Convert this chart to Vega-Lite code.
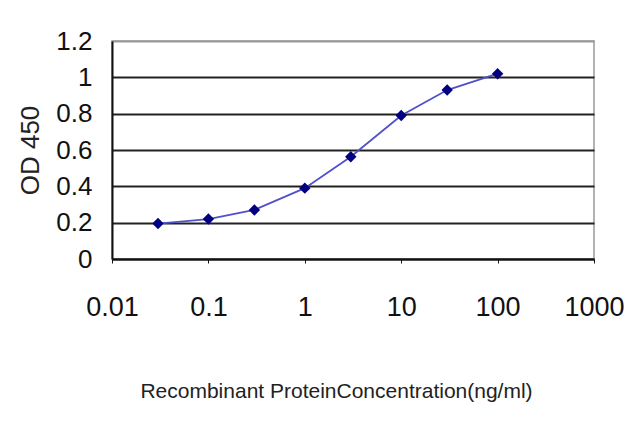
{
  "$schema": "https://vega.github.io/schema/vega-lite/v6.json",
  "width": 482,
  "height": 218,
  "autosize": "none",
  "padding": {"left": 112, "top": 41, "right": 46, "bottom": 168},
  "background": "white",
  "config": {
    "view": {"stroke": "#999999", "strokeWidth": 1.5},
    "font": "Liberation Sans"
  },
  "data": {
    "values": [
      {"conc": 0.03, "od": 0.195},
      {"conc": 0.1, "od": 0.22},
      {"conc": 0.3, "od": 0.27},
      {"conc": 1, "od": 0.39},
      {"conc": 3, "od": 0.563},
      {"conc": 10, "od": 0.79},
      {"conc": 30, "od": 0.93},
      {"conc": 100, "od": 1.02}
    ]
  },
  "encoding": {
    "x": {
      "field": "conc",
      "type": "quantitative",
      "scale": {"type": "log", "domain": [0.01, 1000], "nice": false},
      "axis": {
        "values": [0.01, 0.1, 1, 10, 100, 1000],
        "format": "~g",
        "grid": false,
        "labelFlush": false,
        "domainColor": "#111111",
        "domainWidth": 2,
        "tickColor": "#111111",
        "tickSize": 4,
        "labelFontSize": 27,
        "labelColor": "#111111",
        "labelPadding": 31,
        "title": "Recombinant ProteinConcentration(ng/ml)",
        "titleFontSize": 21,
        "titleFontWeight": "normal",
        "titleColor": "#222222",
        "titleX": 224,
        "titleY": 132,
        "titleBaseline": "middle"
      }
    },
    "y": {
      "field": "od",
      "type": "quantitative",
      "scale": {"domain": [0, 1.2], "nice": false},
      "axis": {
        "values": [0, 0.2, 0.4, 0.6, 0.8, 1, 1.2],
        "format": "~g",
        "grid": true,
        "gridColor": {"condition": {"test": "datum.value >= 1.1", "value": "#999999"}, "value": "#222222"},
        "gridWidth": 2,
        "ticks": false,
        "domainColor": "#111111",
        "domainWidth": 2,
        "labelFontSize": 26,
        "labelColor": "#111111",
        "labelPadding": 20,
        "title": "OD 450",
        "titleFontSize": 26,
        "titleFontWeight": "normal",
        "titleColor": "#222222",
        "titlePadding": 12
      }
    }
  },
  "layer": [
    {"mark": {"type": "line", "color": "#5050cc", "strokeWidth": 1.8}},
    {"mark": {"type": "point", "shape": "diamond", "filled": true, "color": "#000080", "size": 130, "opacity": 1}}
  ]
}
